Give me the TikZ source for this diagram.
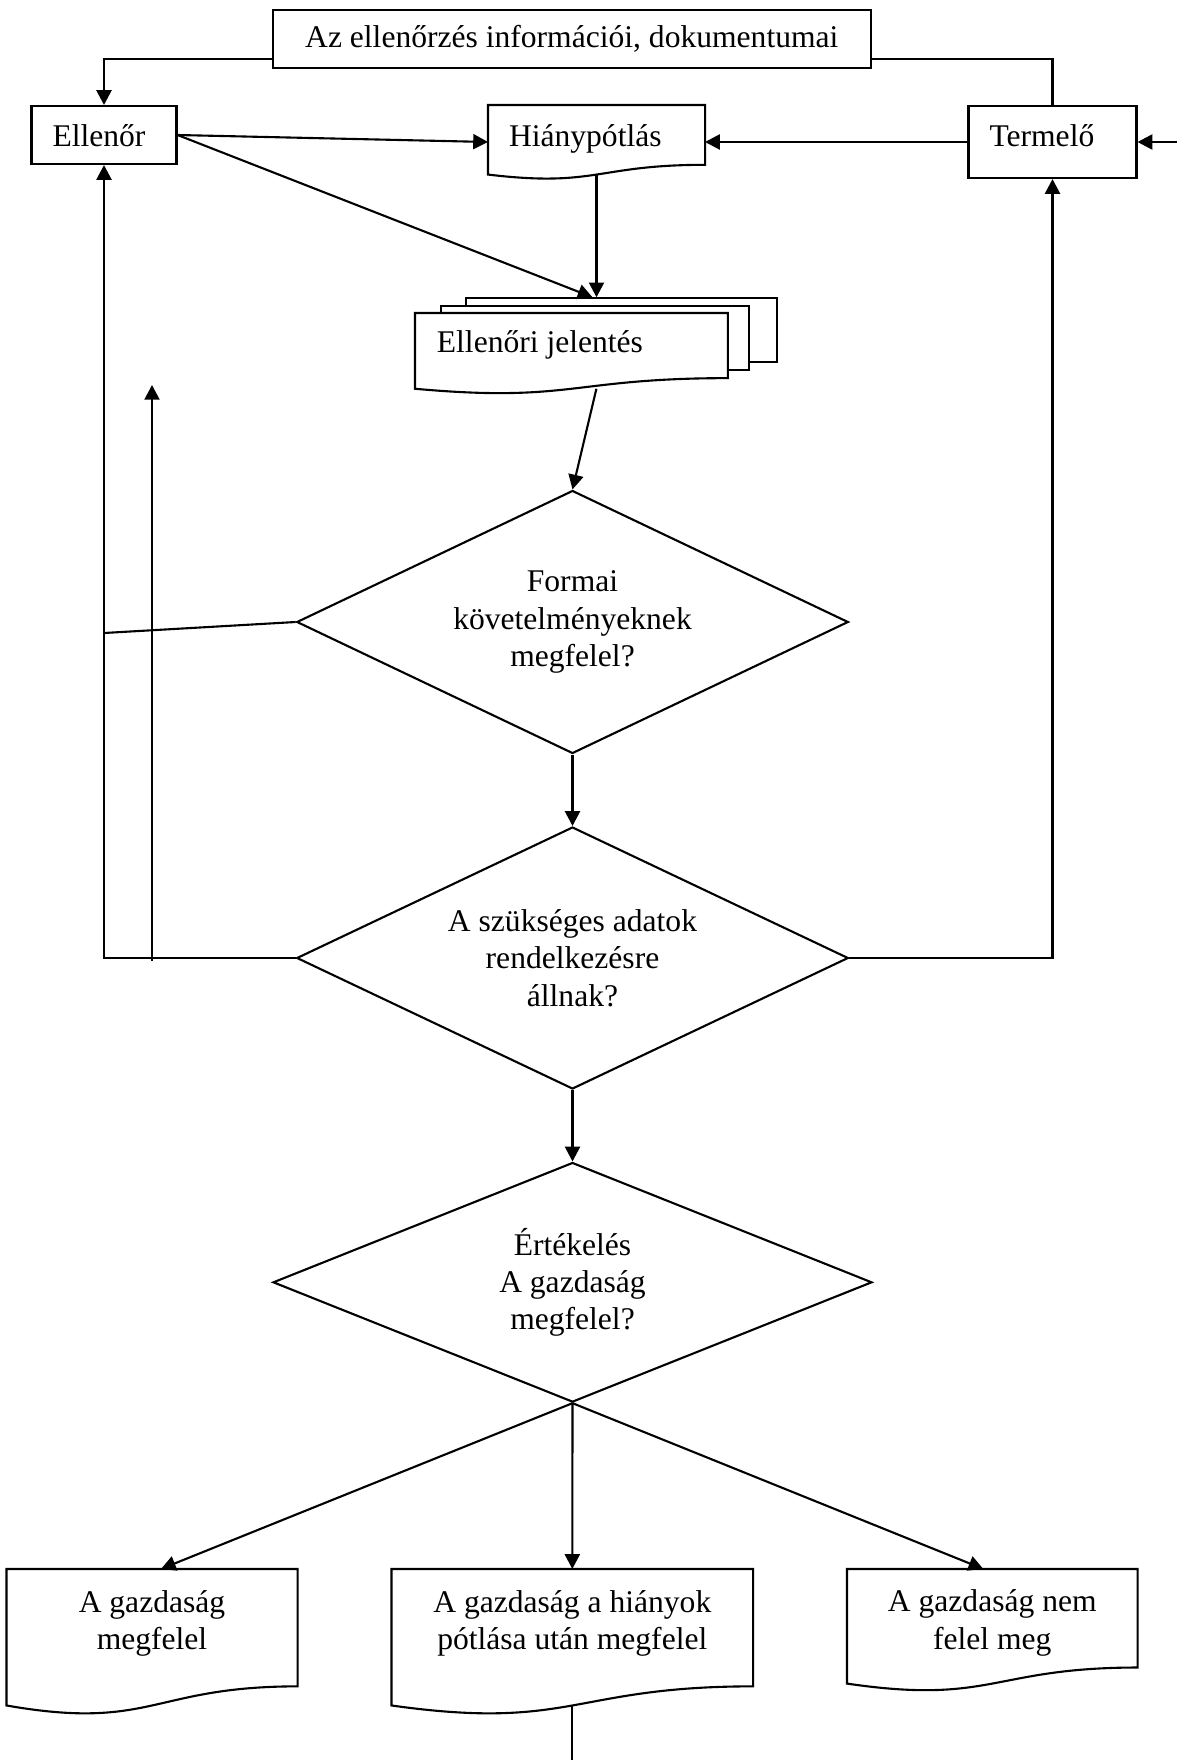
\documentclass[tikz,border=0pt]{standalone}
\usepackage{fontspec}
\setmainfont{Liberation Serif}
\usepackage{tikz}
\usetikzlibrary{arrows.meta, shapes.geometric, calc}

% one pixel of the layout
\newcommand{\pxl}{0.38pt}
% wavy document outline round a doc node
\newcommand{\docoutline}[1]{%
  \draw (#1.north west) -- (#1.north east)
    -- ($(#1.north east)!0.86!(#1.south east)$)
    .. controls ($(#1.north)!0.86!(#1.south)$) and ($(#1.north)!1.187!(#1.south)$)
    .. (#1.south west) -- cycle;}

\begin{document}
\begin{tikzpicture}[
    x=\pxl, y=-\pxl,
    font=\fontsize{12pt}{14.2pt}\selectfont,
    line width=0.8pt,
    box/.style={draw, rectangle, align=flush left, inner xsep=21*\pxl, inner ysep=0pt},
    doc/.style={rectangle, inner sep=0pt},
    sheet/.style={draw, fill=white, rectangle, inner sep=0pt},
    decision/.style={draw, diamond, align=center, inner sep=0pt, aspect=2.2},
    arrow/.style={-{Triangle[length=5.6pt, width=5.7pt]}}
]
\useasboundingbox (0,0) rectangle (1177,1760);

% Header
\node[box, align=center, inner xsep=0pt, minimum width=598*\pxl, minimum height=58*\pxl] (info) at (571.8,39)
    {Az ellenőrzés információi, dokumentumai};

% Actors
\node[box, text width=103*\pxl, minimum height=58*\pxl, text height=12pt, text depth=3.1pt] (ell) at (104,135) {Ellenőr};
\node[box, text width=126*\pxl, minimum height=72*\pxl, text height=12pt, text depth=8.4pt] (term) at (1052.5,142) {Termelő};

% Documents
\node[doc, align=flush left, text width=175*\pxl, minimum width=215*\pxl, minimum height=67.5*\pxl, text height=12pt, text depth=6.7pt] (hiany) at (596.5,139.75) {Hiánypótlás};
\docoutline{hiany}

\node[sheet, minimum width=311*\pxl, minimum height=63.4*\pxl] (jel3) at (621.2,330) {};
\node[sheet, minimum width=308.3*\pxl, minimum height=64*\pxl] (jel2) at (595.2,338) {};
\node[doc, fill=white, align=flush left, text width=269*\pxl, minimum width=310.7*\pxl, minimum height=73.7*\pxl, text depth=6.9pt] (jel) at (571.4,350.85) {Ellenőri jelentés};
\docoutline{jel}

% Decisions
\node[decision, minimum width=551.6*\pxl, minimum height=263*\pxl] (formai) at (572.5,622)
    {Formai\\követelményeknek\\megfelel?};
\node[decision, minimum width=551.6*\pxl, minimum height=262*\pxl] (adatok) at (572.5,958)
    {A szükséges adatok\\rendelkezésre\\állnak?};
\node[decision, minimum width=599*\pxl, minimum height=239.6*\pxl] (ert) at (572.5,1282.3)
    {Értékelés\\A gazdaság\\megfelel?};

% Results
\node[doc, align=flush center, text width=260*\pxl, minimum width=289*\pxl, minimum height=134.4*\pxl, text depth=27.5pt] (gm) at (152,1637.2)
    {A gazdaság\\megfelel};
\docoutline{gm}
\node[doc, align=flush center, text width=330*\pxl, minimum width=359.4*\pxl, minimum height=134.4*\pxl, text depth=27.5pt] (ghm) at (572.3,1637.2)
    {A gazdaság a hiányok\\pótlása után megfelel};
\docoutline{ghm}
\node[doc, align=flush center, text width=260*\pxl, minimum width=288.6*\pxl, minimum height=112.5*\pxl, text depth=19.2pt] (gnm) at (992.3,1626.25)
    {A gazdaság nem\\felel meg};
\docoutline{gnm}

% Free ends
\coordinate (inR) at (1177,142);
\coordinate (dangB) at (152,961);
\coordinate (dangT) at (152,385);
\coordinate (outB) at (572.3,1760);

% Connecting Arrows
\draw[arrow] ([yshift=10*\pxl]info.south west) -| (ell.north);
\draw ([yshift=10*\pxl]info.south east) -| (term.north);
\draw[arrow] (ell.east) -- (hiany.west |- term.west);
\draw[arrow] (term.west) -- (hiany.east |- term.west);
\draw[arrow] (inR) -- (term.east);
\draw[arrow] (ell.east) -- ($(hiany.south |- jel3.north)+(-4,0)$);
\draw[arrow] (hiany.south) -- (hiany.south |- jel3.north);
\draw[arrow] ($(jel.south)+(25,0)$) -- (formai.north);
\draw[arrow] (formai.south) -- (adatok.north);
\draw[arrow] (adatok.south) -- (ert.north);

% Loops back
\draw[arrow] (adatok.west) -| (ell.south);
\draw (formai.west) -- ($(ell.south |- formai.west)+(0,11)$);
\draw[arrow] (dangB) -- (dangT);
\draw[arrow] (adatok.east) -| (term.south);

% Outcomes
\draw[arrow] (ert.south) -- ($(gm.north)+(9,0)$);
\draw[arrow] (ert.south) -- (ghm.north);
\draw[arrow] (ert.south) -- ($(gnm.north)+(-9,0)$);
\draw (ghm.south) -- (outB);

\end{tikzpicture}
\end{document}
